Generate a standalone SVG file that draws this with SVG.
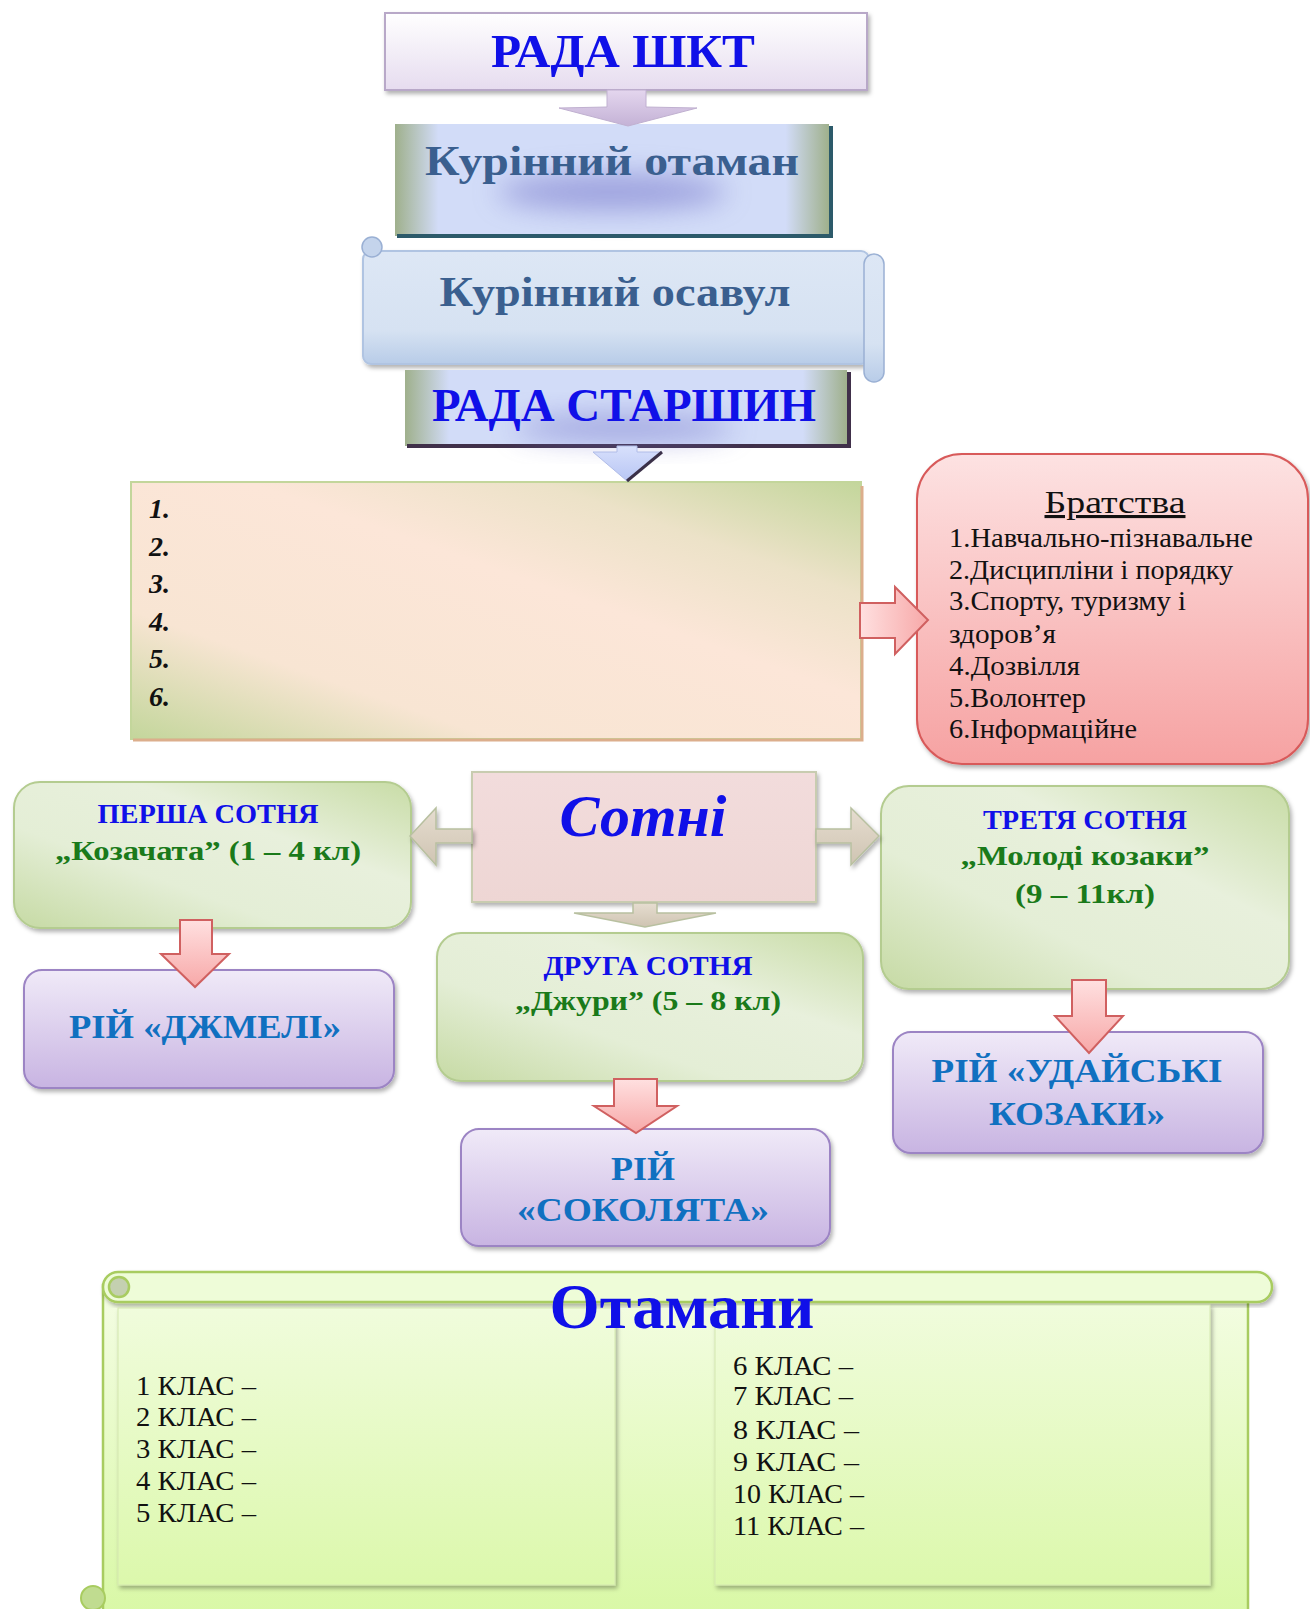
<svg xmlns="http://www.w3.org/2000/svg" width="1310" height="1609" viewBox="0 0 1310 1609">
<defs>
<style>
text{font-family:"Liberation Serif","Times New Roman",serif}
.b{font-weight:bold}
.blue{fill:#1010e8}
.steel{fill:#3a5f8f}
.rij{fill:#1070c0;font-weight:bold;font-size:33px}
.sot1{font-weight:bold;font-size:28px;fill:#1010e8}
.sot2{font-weight:bold;font-size:28px;fill:#1a7a1a}
.num{font-weight:bold;font-style:italic;font-size:28px;fill:#111}
.br{font-size:27px;fill:#111}
.kl{font-size:28px;fill:#111}
.pink{fill:url(#gPink);stroke:#d06060;stroke-width:2}
.green{fill:url(#gGreen);stroke:#b4cc90;stroke-width:2}
.purple{fill:url(#gPurple);stroke:#9c84c4;stroke-width:2}
.tan{fill:url(#gTan);stroke:#b8c0a0;stroke-width:1.5}
.panel{fill:url(#gPanel);stroke:#d4e8b0;stroke-width:1}
</style>
<filter id="sh" x="-10%" y="-10%" width="125%" height="130%"><feDropShadow dx="2" dy="3" stdDeviation="2" flood-color="#000" flood-opacity="0.3"/></filter>
<filter id="blur" x="-50%" y="-100%" width="200%" height="300%"><feGaussianBlur stdDeviation="14"/></filter>
<linearGradient id="gTop" x1="0" y1="0" x2="0" y2="1"><stop offset="0" stop-color="#ffffff"/><stop offset="1" stop-color="#e6dcef"/></linearGradient>
<linearGradient id="gOtam" x1="0" y1="0" x2="1" y2="0"><stop offset="0" stop-color="#9fb08c"/><stop offset="0.1" stop-color="#d2dcf8"/><stop offset="0.9" stop-color="#d2dcf8"/><stop offset="1" stop-color="#9fb08c"/></linearGradient>
<linearGradient id="gOsav" x1="0" y1="0" x2="0" y2="1"><stop offset="0" stop-color="#dde7f5"/><stop offset="0.7" stop-color="#d6e2f2"/><stop offset="1" stop-color="#b8cce8"/></linearGradient>
<linearGradient id="gArrL" x1="0" y1="0" x2="0" y2="1"><stop offset="0" stop-color="#e4d6ee"/><stop offset="1" stop-color="#c4b2d6"/></linearGradient>
<linearGradient id="gArrB" x1="0" y1="0" x2="0" y2="1"><stop offset="0" stop-color="#d8e0fc"/><stop offset="1" stop-color="#b8c6f4"/></linearGradient>
<linearGradient id="gNum" x1="1" y1="0" x2="0" y2="1"><stop offset="0" stop-color="#c3d69b"/><stop offset="0.22" stop-color="#ece2c8"/><stop offset="0.42" stop-color="#fce6d8"/><stop offset="0.75" stop-color="#f8e5d3"/><stop offset="1" stop-color="#c3d69b"/></linearGradient>
<linearGradient id="gBr" x1="0" y1="0" x2="0" y2="1"><stop offset="0" stop-color="#fde2e2"/><stop offset="1" stop-color="#f6a2a2"/></linearGradient>
<linearGradient id="gPink" x1="0" y1="0" x2="0" y2="1"><stop offset="0" stop-color="#ffe0e0"/><stop offset="1" stop-color="#f7a8a8"/></linearGradient>
<linearGradient id="gPinkH" x1="0" y1="0" x2="1" y2="0"><stop offset="0" stop-color="#ffe0e0"/><stop offset="1" stop-color="#f7a8a8"/></linearGradient>
<linearGradient id="gGreen" x1="1" y1="0" x2="0" y2="1"><stop offset="0" stop-color="#c8dca6"/><stop offset="0.35" stop-color="#e8f0dc"/><stop offset="0.65" stop-color="#e4eed6"/><stop offset="1" stop-color="#c6daa4"/></linearGradient>
<linearGradient id="gPurple" x1="0" y1="0" x2="0" y2="1"><stop offset="0" stop-color="#f0eaf8"/><stop offset="1" stop-color="#c8b4e2"/></linearGradient>
<linearGradient id="gSot" x1="0" y1="0" x2="0" y2="1"><stop offset="0" stop-color="#f2dcdc"/><stop offset="1" stop-color="#eed6d4"/></linearGradient>
<linearGradient id="gTan" x1="0" y1="0" x2="0" y2="1"><stop offset="0" stop-color="#e6ddd0"/><stop offset="1" stop-color="#cfc4b2"/></linearGradient>
<linearGradient id="gOt" x1="0" y1="0" x2="0" y2="1"><stop offset="0" stop-color="#f4fde4"/><stop offset="1" stop-color="#d8f8a4"/></linearGradient>
<linearGradient id="gPanel" x1="0" y1="0" x2="0" y2="1"><stop offset="0" stop-color="#f0fcdc"/><stop offset="1" stop-color="#dcf8ac"/></linearGradient>
</defs>

<g id="rada-shkt">
  <rect x="385" y="13" width="482" height="77" fill="url(#gTop)" stroke="#b8a8c8" stroke-width="2" filter="url(#sh)"/>
  <text x="623" y="67" text-anchor="middle" class="b blue" font-size="47" textLength="264" lengthAdjust="spacingAndGlyphs">РАДА ШКТ</text>
</g>

<g id="kurinnyi-otaman">
  <rect x="395" y="124" width="434" height="112" fill="url(#gOtam)"/>
  <path d="M397,236 H831 V126" stroke="#2c5a6a" stroke-width="4" fill="none"/>
  <ellipse cx="612" cy="192" rx="115" ry="18" fill="#7070c8" opacity="0.55" filter="url(#blur)"/>
  <text x="612" y="175" text-anchor="middle" class="b steel" font-size="42" textLength="374" lengthAdjust="spacingAndGlyphs">Курінний  отаман</text>
</g>

<g id="kurinnyi-osavul">
  <rect x="363" y="251" width="506" height="113" rx="8" fill="url(#gOsav)" stroke="#b0c4e2" stroke-width="2" filter="url(#sh)"/>
  <circle cx="372" cy="247" r="10" fill="#c4d4ec" stroke="#9ab0d4" stroke-width="1.5"/>
  <rect x="864" y="254" width="20" height="128" rx="10" fill="url(#gOsav)" stroke="#9ab0d4" stroke-width="1.5"/>
  <text x="615" y="306" text-anchor="middle" class="b steel" font-size="42" textLength="351" lengthAdjust="spacingAndGlyphs">Курінний осавул</text>
</g>

<g id="rada-starshyn">
  <rect x="405" y="370" width="442" height="76" fill="url(#gOtam)"/>
  <path d="M407,446 H849 V372" stroke="#40304a" stroke-width="4" fill="none"/>
  <ellipse cx="624" cy="428" rx="110" ry="12" fill="#7070c8" opacity="0.55" filter="url(#blur)"/>
  <text x="624" y="421" text-anchor="middle" class="b blue" font-size="46" textLength="384" lengthAdjust="spacingAndGlyphs">РАДА СТАРШИН</text>
</g>

<g id="numbered">
  <rect x="131" y="482" width="730" height="257" fill="url(#gNum)" stroke="#c3d69b" stroke-width="2"/>
  <path d="M133,740 H862 V486" stroke="#dcae8c" stroke-width="3" fill="none"/>
  <text x="149" y="518" class="num">1.</text>
  <text x="149" y="556" class="num">2.</text>
  <text x="149" y="593" class="num">3.</text>
  <text x="149" y="631" class="num">4.</text>
  <text x="149" y="668" class="num">5.</text>
  <text x="149" y="706" class="num">6.</text>
</g>

<g id="bratstva">
  <rect x="917" y="454" width="391" height="310" rx="45" fill="url(#gBr)" stroke="#d85a5a" stroke-width="2" filter="url(#sh)"/>
  <text x="1115" y="513" text-anchor="middle" font-size="31" fill="#111" text-decoration="underline" textLength="141" lengthAdjust="spacingAndGlyphs">Братства</text>
  <text x="949" y="547" class="br" textLength="304" lengthAdjust="spacingAndGlyphs">1.Навчально-пізнавальне</text>
  <text x="949" y="579" class="br" textLength="284" lengthAdjust="spacingAndGlyphs">2.Дисципліни і порядку</text>
  <text x="949" y="610" class="br" textLength="237" lengthAdjust="spacingAndGlyphs">3.Спорту, туризму і</text>
  <text x="949" y="643" class="br" textLength="107" lengthAdjust="spacingAndGlyphs">здоров’я</text>
  <text x="949" y="675" class="br" textLength="131" lengthAdjust="spacingAndGlyphs">4.Дозвілля</text>
  <text x="949" y="707" class="br" textLength="137" lengthAdjust="spacingAndGlyphs">5.Волонтер</text>
  <text x="949" y="738" class="br" textLength="188" lengthAdjust="spacingAndGlyphs">6.Інформаційне</text>
</g>

<g id="sotni">
  <rect x="472" y="772" width="344" height="130" fill="url(#gSot)" stroke="#c8ccb0" stroke-width="2" filter="url(#sh)"/>
  <text x="643" y="836" text-anchor="middle" class="b blue" font-style="italic" font-size="60" textLength="167" lengthAdjust="spacingAndGlyphs">Сотні</text>
</g>

<g id="persha-sotnia">
  <rect x="14" y="782" width="397" height="146" rx="26" class="green" filter="url(#sh)"/>
  <text x="208" y="823" text-anchor="middle" class="sot1" textLength="221" lengthAdjust="spacingAndGlyphs">ПЕРША СОТНЯ</text>
  <text x="208" y="860" text-anchor="middle" class="sot2" textLength="306" lengthAdjust="spacingAndGlyphs">„Козачата” (1 – 4 кл)</text>
</g>

<g id="rij-dzhmeli">
  <rect x="24" y="970" width="370" height="118" rx="18" class="purple" filter="url(#sh)"/>
  <text x="205" y="1038" text-anchor="middle" class="rij" textLength="272" lengthAdjust="spacingAndGlyphs">РІЙ «ДЖМЕЛІ»</text>
</g>

<g id="druha-sotnia">
  <rect x="437" y="933" width="426" height="148" rx="24" class="green" filter="url(#sh)"/>
  <text x="648" y="975" text-anchor="middle" class="sot1" textLength="209" lengthAdjust="spacingAndGlyphs">ДРУГА СОТНЯ</text>
  <text x="648" y="1010" text-anchor="middle" class="sot2" textLength="266" lengthAdjust="spacingAndGlyphs">„Джури” (5 – 8 кл)</text>
</g>

<g id="rij-sokoliata">
  <rect x="461" y="1129" width="369" height="117" rx="18" class="purple" filter="url(#sh)"/>
  <text x="643" y="1180" text-anchor="middle" class="rij" textLength="64" lengthAdjust="spacingAndGlyphs">РІЙ</text>
  <text x="643" y="1221" text-anchor="middle" class="rij" textLength="252" lengthAdjust="spacingAndGlyphs">«СОКОЛЯТА»</text>
</g>

<g id="tretia-sotnia">
  <rect x="881" y="786" width="408" height="203" rx="28" class="green" filter="url(#sh)"/>
  <text x="1085" y="829" text-anchor="middle" class="sot1" textLength="204" lengthAdjust="spacingAndGlyphs">ТРЕТЯ СОТНЯ</text>
  <text x="1085" y="865" text-anchor="middle" class="sot2" textLength="249" lengthAdjust="spacingAndGlyphs">„Молоді козаки”</text>
  <text x="1085" y="903" text-anchor="middle" class="sot2" textLength="140" lengthAdjust="spacingAndGlyphs">(9 – 11кл)</text>
</g>

<g id="rij-udaiski">
  <rect x="893" y="1032" width="370" height="121" rx="18" class="purple" filter="url(#sh)"/>
  <text x="1077" y="1082" text-anchor="middle" class="rij" textLength="291" lengthAdjust="spacingAndGlyphs">РІЙ «УДАЙСЬКІ</text>
  <text x="1077" y="1125" text-anchor="middle" class="rij" textLength="176" lengthAdjust="spacingAndGlyphs">КОЗАКИ»</text>
</g>

<g id="otamany">
  <rect x="103" y="1285" width="1145" height="340" fill="url(#gOt)" stroke="#a8cc60" stroke-width="2.5"/>
  <rect x="103" y="1272" width="1169" height="30" rx="15" fill="#eefcd8" stroke="#a8cc60" stroke-width="2.5" filter="url(#sh)"/>
  <circle cx="119" cy="1287" r="10" fill="#c4d0b0" stroke="#a8cc60" stroke-width="2.5"/>
  <circle cx="93" cy="1598" r="12" fill="#c0dc90" stroke="#a8cc60" stroke-width="2"/>
  <rect x="118" y="1308" width="497" height="277" class="panel" filter="url(#sh)"/>
  <rect x="715" y="1305" width="495" height="280" class="panel" filter="url(#sh)"/>
  <text x="682" y="1328" text-anchor="middle" class="b blue" font-size="64" textLength="265" lengthAdjust="spacingAndGlyphs">Отамани</text>
  <text x="136" y="1395" class="kl" textLength="120" lengthAdjust="spacingAndGlyphs">1 КЛАС –</text>
  <text x="136" y="1426" class="kl" textLength="120" lengthAdjust="spacingAndGlyphs">2 КЛАС –</text>
  <text x="136" y="1458" class="kl" textLength="120" lengthAdjust="spacingAndGlyphs">3 КЛАС –</text>
  <text x="136" y="1490" class="kl" textLength="120" lengthAdjust="spacingAndGlyphs">4 КЛАС –</text>
  <text x="136" y="1522" class="kl" textLength="120" lengthAdjust="spacingAndGlyphs">5 КЛАС –</text>
  <text x="733" y="1375" class="kl" textLength="120" lengthAdjust="spacingAndGlyphs">6 КЛАС –</text>
  <text x="733" y="1405" class="kl" textLength="120" lengthAdjust="spacingAndGlyphs">7 КЛАС –</text>
  <text x="733" y="1439" class="kl" textLength="126" lengthAdjust="spacingAndGlyphs">8  КЛАС –</text>
  <text x="733" y="1471" class="kl" textLength="126" lengthAdjust="spacingAndGlyphs">9  КЛАС –</text>
  <text x="733" y="1503" class="kl" textLength="131" lengthAdjust="spacingAndGlyphs">10 КЛАС –</text>
  <text x="733" y="1535" class="kl" textLength="131" lengthAdjust="spacingAndGlyphs">11 КЛАС –</text>
</g>

<g id="connectors">
  <polygon points="607,90 646,90 646,107 697,108 628,126 559,108 607,107" fill="url(#gArrL)" stroke="#c0b0d0" stroke-width="1"/>
  <polygon points="617,446 637,446 637,452 662,452 627,481 593,452 617,452" fill="url(#gArrB)" stroke="#b0bce8" stroke-width="1"/>
  <path d="M662,452 L627,481" stroke="#3a3048" stroke-width="3" fill="none"/>
  <polygon points="860,603 895,603 895,587 928,620 895,654 895,638 860,638" fill="url(#gPinkH)" stroke="#d06060" stroke-width="2"/>
  <polygon points="472,829 436,829 436,808 410,836 436,865 436,843 472,843" class="tan" filter="url(#sh)"/>
  <polygon points="816,829 851,829 851,808 879,836 851,865 851,843 816,843" class="tan" filter="url(#sh)"/>
  <polygon points="633,903 657,903 657,913 716,913 645,927 574,913 633,913" class="tan"/>
  <polygon points="180,920 212,920 212,954 229,954 195,987 161,954 180,954" class="pink"/>
  <polygon points="614,1079 657,1079 657,1106 677,1106 636,1133 594,1106 614,1106" class="pink"/>
  <polygon points="1072,980 1106,980 1106,1016 1123,1016 1089,1053 1055,1016 1072,1016" class="pink"/>
</g>
</svg>
